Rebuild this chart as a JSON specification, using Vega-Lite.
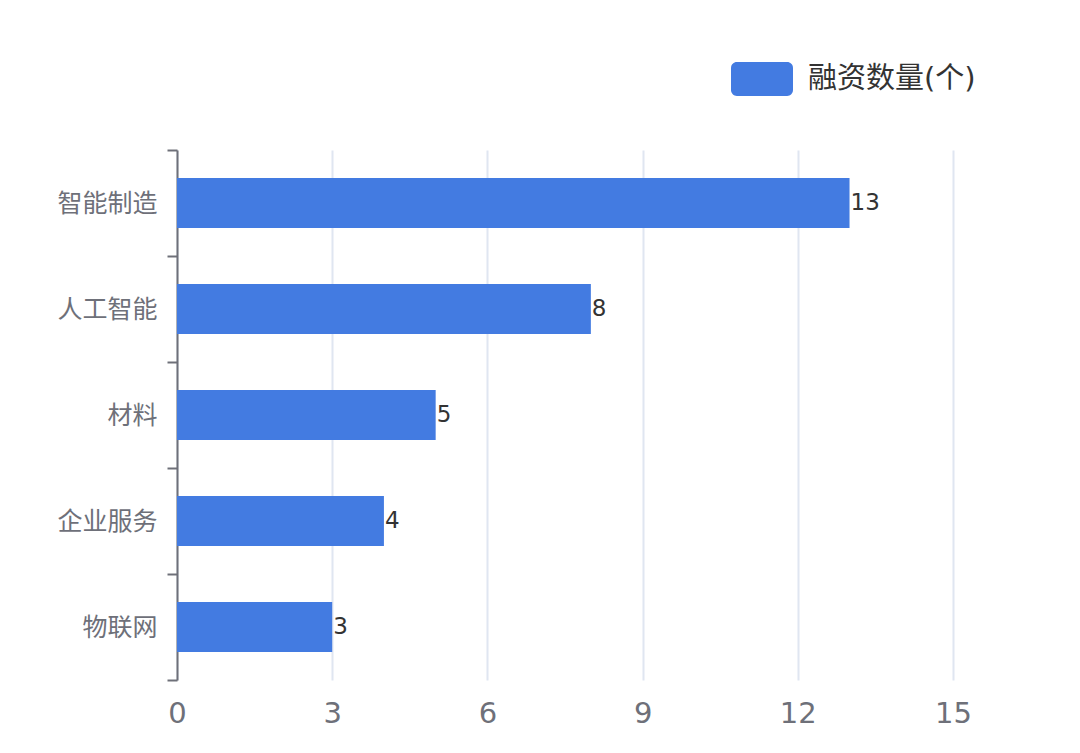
{
  "$schema": "https://vega.github.io/schema/vega-lite/v6.json",
  "width": 776,
  "height": 530,
  "autosize": {"type": "none"},
  "padding": {"left": 177, "top": 150, "right": 127, "bottom": 73},
  "background": "#ffffff",
  "config": {
    "view": {"stroke": null},
    "font": "DejaVu Sans, Noto Sans CJK SC"
  },
  "data": {
    "values": [
      {"category": "智能制造", "count": 13, "series": "融资数量(个)"},
      {"category": "人工智能", "count": 8, "series": "融资数量(个)"},
      {"category": "材料", "count": 5, "series": "融资数量(个)"},
      {"category": "企业服务", "count": 4, "series": "融资数量(个)"},
      {"category": "物联网", "count": 3, "series": "融资数量(个)"}
    ]
  },
  "encoding": {
    "y": {
      "field": "category",
      "type": "nominal",
      "sort": null,
      "scale": {"paddingInner": 0, "paddingOuter": 0},
      "axis": {
        "title": null,
        "tickBand": "extent",
        "tickSize": 10,
        "tickWidth": 2,
        "tickColor": "#6e7079",
        "domainColor": "#6e7079",
        "domainWidth": 2,
        "labelFontSize": 25,
        "labelColor": "#6e7079",
        "labelPadding": 10,
        "grid": false
      }
    },
    "x": {
      "field": "count",
      "type": "quantitative",
      "scale": {"domain": [0, 15]},
      "axis": {
        "title": null,
        "values": [0, 3, 6, 9, 12, 15],
        "domain": false,
        "ticks": false,
        "grid": true,
        "gridColor": "#e0e6f1",
        "gridWidth": 2,
        "labelFontSize": 29,
        "labelColor": "#6e7079",
        "labelPadding": 19,
        "labelFlush": false
      }
    }
  },
  "layer": [
    {
      "mark": {"type": "bar", "height": {"band": 0.47}},
      "encoding": {
        "color": {
          "field": "series",
          "type": "nominal",
          "scale": {"range": ["#437be1"]},
          "legend": {
            "title": null,
            "orient": "none",
            "legendX": 554,
            "legendY": -102,
            "symbolType": "M-0.81,-0.548 L0.81,-0.548 A0.19,0.19 0 0 1 1,-0.358 L1,0.358 A0.19,0.19 0 0 1 0.81,0.548 L-0.81,0.548 A0.19,0.19 0 0 1 -1,0.358 L-1,-0.358 A0.19,0.19 0 0 1 -0.81,-0.548 Z",
            "symbolSize": 3844,
            "symbolStrokeWidth": 0,
            "symbolOpacity": 1,
            "labelFontSize": 29,
            "labelColor": "#333333",
            "labelOffset": 15,
            "labelLimit": 400
          }
        }
      }
    },
    {
      "mark": {
        "type": "text",
        "align": "left",
        "baseline": "middle",
        "dx": 1,
        "fontSize": 23,
        "color": "#333333"
      },
      "encoding": {
        "text": {"field": "count", "type": "quantitative"}
      }
    }
  ]
}
